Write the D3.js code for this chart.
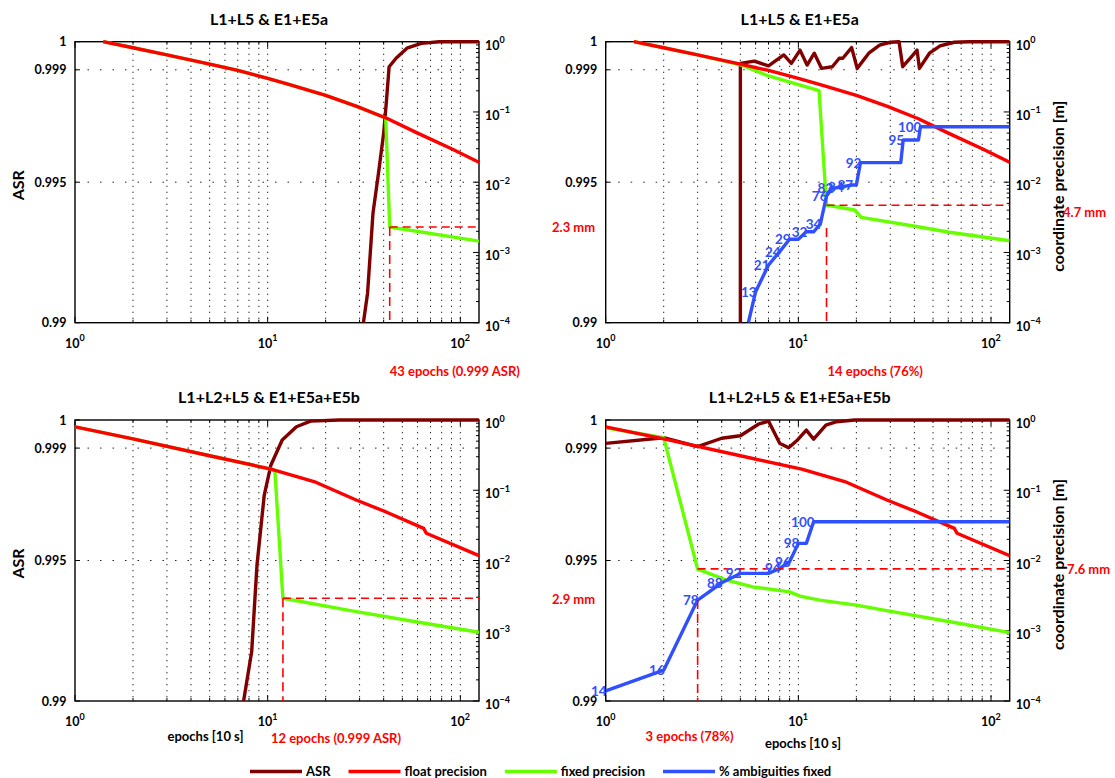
<!DOCTYPE html>
<html>
<head>
<meta charset="utf-8">
<title>ASR and coordinate precision</title>
<style>
  body { margin: 0; background: #fff; }
  svg { display: block; font-family: Lato, "Open Sans", sans-serif; font-weight: bold; }
</style>
</head>
<body>
<svg width="1115" height="778"></svg>
<script src="https://cdn.jsdelivr.net/npm/d3@7/dist/d3.min.js"></script>
<script>
// ---- data ----
var titles = ["L1+L5 & E1+E5a", "L1+L5 & E1+E5a", "L1+L2+L5 & E1+E5a+E5b", "L1+L2+L5 & E1+E5a+E5b"];
var xDomain = [1, 125],
    asrDomain = [0.99, 1],
    precDomain = [1e-4, 1],
    asrTicks = [0.99, 0.995, 0.999, 1],
    asrTickLabels = ["0.99", "0.995", "0.999", "1"];

// float precision [m]
var floatTopEpochs = [1.4, 2, 3, 5, 7, 10, 13, 20, 29, 42, 60, 90, 125],
    floatTopPrec   = [1.0, 0.82, 0.65, 0.48, 0.39, 0.30, 0.245, 0.172, 0.12, 0.080, 0.050, 0.030, 0.0192];
var floatBotEpochs = [1, 2, 5, 10.4, 17.4, 28.8, 40.9, 64.5, 66.6, 125],
    floatBotPrec   = [0.80, 0.54, 0.31, 0.2, 0.133, 0.0726, 0.0495, 0.0287, 0.0244, 0.0117];

// fixed precision [m]
var fixedTLEpochs = [1.4, 2, 3, 5, 7, 10, 13, 20, 29, 41, 43, 125],
    fixedTLPrec   = [1.0, 0.82, 0.65, 0.48, 0.39, 0.30, 0.245, 0.172, 0.12, 0.082, 0.0023, 0.00145];
var fixedTREpochs = [1.4, 2, 3, 5, 7, 12.8, 14, 19.6, 21.2, 41.7, 60.8, 125],
    fixedTRPrec   = [1.0, 0.82, 0.65, 0.47, 0.325, 0.201, 0.00473, 0.00402, 0.00316, 0.00232, 0.00194, 0.00147];
var fixedBLEpochs = [1, 2, 5, 10.4, 10.9, 12, 28.8, 65.3, 125],
    fixedBLPrec   = [0.80, 0.54, 0.31, 0.2, 0.19, 0.0029, 0.00187, 0.00128, 0.00095];
var fixedBREpochs = [1, 2, 3, 4.24, 5.8, 9, 10.2, 12.9, 20, 26.4, 64.5, 125],
    fixedBRPrec   = [0.776, 0.56, 0.00755, 0.00526, 0.00422, 0.00358, 0.00311, 0.00273, 0.00232, 0.00201, 0.00131, 0.00094];

// ASR
var asrTLEpochs = [31.4, 33, 35.2, 37.6, 40, 41.4, 42.7, 46.4, 52.8, 62.7, 77.6, 125],
    asrTL       = [0.99, 0.99105, 0.99389, 0.99532, 0.99674, 0.99793, 0.99911, 0.99941, 0.99977, 0.99994, 1, 1];
var asrTREpochs = [5, 5, 5.9, 7, 8.4, 9.2, 10.2, 11.1, 12.1, 13.2, 15, 16.3, 17, 18.9, 20.2, 23.2, 26.4, 30, 33.3, 34.8, 38.7, 41.3, 42.5, 47.9, 54.4, 64.5, 76.5, 125],
    asrTR       = [0.99, 0.99923, 0.99931, 0.99914, 0.99953, 0.99923, 0.9997, 0.99917, 0.99959, 0.99905, 0.99911, 0.99941, 0.99941, 0.99979, 0.99905, 0.99959, 0.99988, 0.99998, 1, 0.99911, 0.99947, 0.9997, 0.99905, 0.99959, 0.99985, 0.99998, 1, 1];
var asrBLEpochs = [7.5, 8.26, 8.8, 9.6, 10.4, 11.9, 14.1, 16.7, 23.5, 125],
    asrBL       = [0.99, 0.99175, 0.99483, 0.99733, 0.9984, 0.99929, 0.99976, 0.99996, 1, 1];
var asrBREpochs = [1, 2, 3, 4, 5, 6.2, 7, 8, 8.9, 9.9, 11, 12, 13.9, 15.8, 19.6, 125],
    asrBR       = [0.99917, 0.99937, 0.99905, 0.99935, 0.99944, 0.99985, 0.99996, 0.99917, 0.99901, 0.99929, 0.99964, 0.99932, 0.99982, 0.99994, 1, 1];

// % ambiguities fixed (curve level on the right axis, plus labels)
var ambTREpochs = [5.5, 6, 7, 8, 9, 10, 11, 12, 13, 14, 15, 17, 19, 20, 21, 34, 35, 42, 43, 125],
    ambTRLevel  = [1e-4, 2.76e-4, 6.62e-4, 1.03e-3, 1.54e-3, 1.54e-3, 1.97e-3, 1.97e-3, 2.54e-3, 6.36e-3, 8.18e-3, 8.63e-3, 9.12e-3, 9.12e-3, 0.019, 0.019, 0.0398, 0.0398, 0.0617, 0.0617],
    ambTRLabelEpochs = [6, 7, 8, 9, 11, 13, 14, 15, 17, 19, 21, 35, 43],
    ambTRPct         = [13, 21, 24, 29, 32, 34, 76, 82, 84, 87, 92, 95, 100];
var ambBREpochs = [1, 2, 3, 4, 5, 7, 8, 9, 10, 11, 12, 125],
    ambBRLevel  = [1.39e-4, 2.75e-4, 2.73e-3, 4.81e-3, 6.55e-3, 6.55e-3, 7.71e-3, 9.6e-3, 0.01753, 0.01753, 0.0356, 0.0356],
    ambBRLabelEpochs = [1, 2, 3, 4, 5, 8, 9, 10, 12],
    ambBRPct         = [14, 16, 78, 88, 92, 94, 96, 98, 100];

// fix markers (dashed lines and annotations)
var fixEpochs  = [43, 14, 12, 3],
    fixLevels  = [0.0023, 0.0047, 0.0029, 0.0076],
    fixFrom    = [0.0023, 0.00223, 0.0029, 0.00273],
    fixTexts   = ["43 epochs (0.999 ASR)", "14 epochs (76%)", "12 epochs (0.999 ASR)", "3 epochs (78%)"],
    fixMmTexts = ["2.3 mm", "4.7 mm", "2.9 mm", "7.6 mm"];

var legendLabels = ["ASR", "float precision", "fixed precision", "% ambiguities fixed"];

// ---- styling ----
var cASR = "#800000", cFloat = "#ff0000", cFixed = "#66ff00", cAmb = "#3050ff", cNote = "#ff0000";
var legendColors = [cASR, cFloat, cFixed, cAmb];

var svg = d3.select("svg"),
    W = 404, H = 281;

var panels = [
  {x0: 75,    y0: 41.7, flt: [floatTopEpochs, floatTopPrec], fix: [fixedTLEpochs, fixedTLPrec], asr: [asrTLEpochs, asrTL],
   amb: null, noteDx: 0, noteY: 376, mmX: 552, mmDy: 0, xlab: null},
  {x0: 605.7, y0: 41.7, flt: [floatTopEpochs, floatTopPrec], fix: [fixedTREpochs, fixedTRPrec], asr: [asrTREpochs, asrTR],
   amb: [ambTREpochs, ambTRLevel, ambTRLabelEpochs, ambTRPct], noteDx: 1, noteY: 376, mmX: 1063, mmDy: 7, xlab: null, right: true},
  {x0: 75,    y0: 420,  flt: [floatBotEpochs, floatBotPrec], fix: [fixedBLEpochs, fixedBLPrec], asr: [asrBLEpochs, asrBL],
   amb: null, noteDx: -12, noteY: 743, mmX: 552, mmDy: 1, xlab: [205.5, 741]},
  {x0: 605.7, y0: 420,  flt: [floatBotEpochs, floatBotPrec], fix: [fixedBREpochs, fixedBRPrec], asr: [asrBREpochs, asrBR],
   amb: [ambBREpochs, ambBRLevel, ambBRLabelEpochs, ambBRPct], noteDx: -52, noteY: 741, mmX: 1067, mmDy: 1, xlab: [803, 748], right: true}
];

function tenLabel(sel, e, supSize) {
  sel.text("10").append("tspan")
    .attr("dy", -6.5).attr("font-size", supSize)
    .text(e < 0 ? "\u2212" + (-e) : e);
}

panels.forEach(function(p, i) {
  var x = d3.scaleLog().domain(xDomain).range([p.x0, p.x0 + W]),
      yL = d3.scaleLinear().domain(asrDomain).range([p.y0 + H, p.y0]),
      yR = d3.scaleLog().domain(precDomain).range([p.y0 + H, p.y0]);
  var g = svg.append("g");

  svg.append("clipPath").attr("id", "clip" + i).append("rect")
    .attr("x", p.x0).attr("y", p.y0 - 2).attr("width", W).attr("height", H + 2);

  // dotted grid
  g.append("g").selectAll("line")
    .data(x.ticks().filter(function(d) { return d > xDomain[0] && d < xDomain[1]; }))
    .join("line")
    .attr("x1", x).attr("x2", x).attr("y1", p.y0).attr("y2", p.y0 + H)
    .attr("stroke", "#222").attr("stroke-width", 1).attr("stroke-dasharray", "1.3,4.7");
  g.append("g").selectAll("line")
    .data(asrTicks.filter(function(d) { return d > asrDomain[0] && d < asrDomain[1]; }))
    .join("line")
    .attr("x1", p.x0).attr("x2", p.x0 + W).attr("y1", yL).attr("y2", yL)
    .attr("stroke", "#222").attr("stroke-width", 1).attr("stroke-dasharray", "1.5,11");

  // frame
  g.append("rect")
    .attr("x", p.x0).attr("y", p.y0).attr("width", W).attr("height", H)
    .attr("fill", "none").attr("stroke", "#000").attr("stroke-width", 1.4);

  // ticks
  var ticks = g.append("g").attr("stroke", "#000").attr("stroke-width", 1);
  x.ticks().forEach(function(d) {
    var len = Number.isInteger(Math.log10(d)) ? 6 : 3;
    ticks.append("line").attr("x1", x(d)).attr("x2", x(d)).attr("y1", p.y0 + H).attr("y2", p.y0 + H - len);
    ticks.append("line").attr("x1", x(d)).attr("x2", x(d)).attr("y1", p.y0).attr("y2", p.y0 + len);
  });
  asrTicks.forEach(function(d) {
    ticks.append("line").attr("x1", p.x0).attr("x2", p.x0 + 5).attr("y1", yL(d)).attr("y2", yL(d));
  });
  yR.ticks().forEach(function(d) {
    var len = Math.abs(Math.log10(d) - Math.round(Math.log10(d))) < 1e-9 ? 6 : 3;
    ticks.append("line").attr("x1", p.x0 + W).attr("x2", p.x0 + W - len).attr("y1", yR(d)).attr("y2", yR(d));
  });

  // tick labels
  var lab = g.append("g").attr("font-size", 12.5).attr("fill", "#000");
  asrTicks.forEach(function(d, k) {
    lab.append("text").attr("x", p.x0 - 8.5).attr("y", yL(d) + 4.5)
      .attr("text-anchor", "end").text(asrTickLabels[k]);
  });
  [1, 10, 100].forEach(function(d) {
    lab.append("text").attr("x", x(d) - 10).attr("y", p.y0 + H + 25)
      .call(tenLabel, Math.round(Math.log10(d)), 9);
  });
  [1e-4, 1e-3, 1e-2, 1e-1, 1].forEach(function(d) {
    lab.append("text").attr("x", p.x0 + W + 6).attr("y", yR(d) + 8)
      .call(tenLabel, Math.round(Math.log10(d)), 9);
  });

  // title
  g.append("text").attr("x", p.x0 + W / 2 - 8).attr("y", p.y0 - 17)
    .attr("text-anchor", "middle").attr("font-size", 16).text(titles[i]);

  // axis titles
  if (!p.right) {
    g.append("text").attr("transform", "translate(18," + (p.y0 + H / 2 + 3) + ") rotate(-90)")
      .attr("dy", "0.35em").attr("text-anchor", "middle").attr("font-size", 16).text("ASR");
  } else {
    g.append("text").attr("transform", "translate(1058," + (p.y0 + H / 2 + 4) + ") rotate(-90)")
      .attr("dy", "0.35em").attr("text-anchor", "middle").attr("font-size", 16).text("coordinate precision [m]");
  }
  if (p.xlab) {
    g.append("text").attr("x", p.xlab[0]).attr("y", p.xlab[1])
      .attr("text-anchor", "middle").attr("font-size", 13).text("epochs [10 s]");
  }

  // series
  var plot = g.append("g").attr("clip-path", "url(#clip" + i + ")")
    .attr("fill", "none").attr("stroke-linejoin", "round");
  var lineR = d3.line().x(function(d) { return x(d[0]); }).y(function(d) { return yR(d[1]); }),
      lineL = d3.line().x(function(d) { return x(d[0]); }).y(function(d) { return yL(d[1]); });

  plot.append("path").datum(d3.zip(p.asr[0], p.asr[1]))
    .attr("d", lineL).attr("stroke", cASR).attr("stroke-width", 3.4);
  plot.append("path").datum(d3.zip(p.fix[0], p.fix[1]))
    .attr("d", lineR).attr("stroke", cFixed).attr("stroke-width", 3.4);
  plot.append("path").datum(d3.zip(p.flt[0], p.flt[1]))
    .attr("d", lineR).attr("stroke", cFloat).attr("stroke-width", 3.4);
  if (p.amb) {
    plot.append("path").datum(d3.zip(p.amb[0], p.amb[1]))
      .attr("d", lineR).attr("stroke", cAmb).attr("stroke-width", 3.4);
  }

  // dashed fix markers
  var fe = fixEpochs[i];
  plot.append("path").datum([[fe, fixLevels[i]], [xDomain[1], fixLevels[i]]])
    .attr("d", lineR).attr("stroke", cNote).attr("stroke-width", 1.6).attr("stroke-dasharray", "8,5");
  plot.append("path").datum([[fe, fixFrom[i]], [fe, precDomain[0]]])
    .attr("d", lineR).attr("stroke", cNote).attr("stroke-width", 1.6).attr("stroke-dasharray", "9,5");

  // percent labels
  if (p.amb) {
    g.append("g").attr("font-size", 13.5).attr("fill", cAmb).attr("text-anchor", "end")
      .selectAll("text").data(p.amb[2]).join("text")
      .attr("x", function(d) { return x(d) + 1; })
      .attr("y", function(d) { return yR(p.amb[1][p.amb[0].indexOf(d)]) + 5; })
      .text(function(d, k) { return p.amb[3][k]; });
  }

  // annotations
  g.append("text").attr("x", x(fe) + p.noteDx).attr("y", p.noteY)
    .attr("font-size", 13).attr("fill", cNote).text(fixTexts[i]);
  g.append("text").attr("x", p.mmX).attr("y", yR(fixLevels[i]) + p.mmDy + 4.5)
    .attr("font-size", 13).attr("fill", cNote).text(fixMmTexts[i]);
});

// legend
var legend = svg.append("g").attr("font-size", 13),
    lx = 250, ly = 771.5;
legendLabels.forEach(function(t, k) {
  legend.append("line").attr("x1", lx).attr("x2", lx + 52).attr("y1", ly).attr("y2", ly)
    .attr("stroke", legendColors[k]).attr("stroke-width", 3.5);
  var txt = legend.append("text").attr("x", lx + 56).attr("y", ly + 4.5).text(t);
  lx += 56 + txt.node().getComputedTextLength() + 18;
});
</script>
</body>
</html>
